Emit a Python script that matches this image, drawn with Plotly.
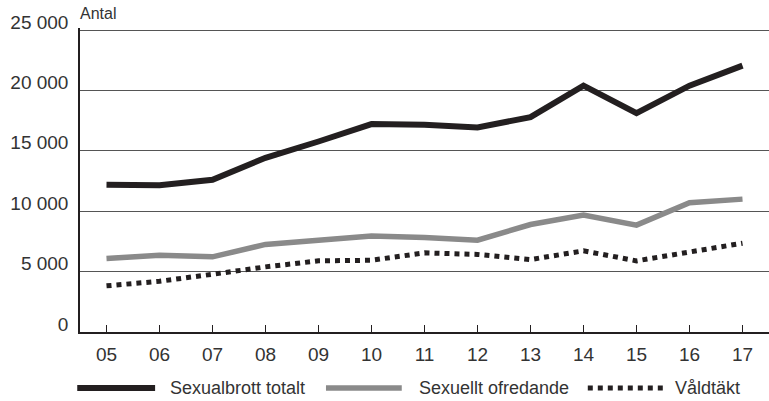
import plotly.graph_objects as go

# ===== Colours =====
INK = "#231f20"
GREY_LINE = "#8a8a8a"
GRID = "#555555"
TEXT = "#333333"
FONT = "Liberation Sans, Arial, Helvetica, sans-serif"

# ===== Data =====
years = ["05", "06", "07", "08", "09", "10", "11", "12", "13", "14", "15", "16", "17"]
sexualbrott_totalt = [12200, 12150, 12600, 14420, 15770, 17210, 17150, 16930, 17790, 20390, 18120, 20390, 22050]
sexuellt_ofredande = [6090, 6360, 6220, 7250, 7600, 7940, 7830, 7600, 8900, 9680, 8850, 10700, 11000]
valdtakt = [3820, 4200, 4780, 5390, 5890, 5940, 6550, 6420, 6000, 6720, 5890, 6630, 7350]

y_ticks = [0, 5000, 10000, 15000, 20000, 25000]
y_tick_labels = ["0", "5 000", "10 000", "15 000", "20 000", "25 000"]

series_names = ["Sexualbrott totalt", "Sexuellt ofredande", "Våldtäkt"]

fig = go.Figure()
fig.add_trace(go.Scatter(x=years, y=sexualbrott_totalt, mode="lines", name=series_names[0],
                         line=dict(color=INK, width=6)))
fig.add_trace(go.Scatter(x=years, y=sexuellt_ofredande, mode="lines", name=series_names[1],
                         line=dict(color=GREY_LINE, width=5.5)))
fig.add_trace(go.Scatter(x=years, y=valdtakt, mode="lines", name=series_names[2],
                         line=dict(color=INK, width=5, dash="5px,5px")))

# plot area is 2px taller than the 0..25 000 span so plotly keeps the top gridline
fig.update_layout(
    width=769, height=401,
    margin=dict(l=80, r=0, t=28, b=69, autoexpand=False),
    paper_bgcolor="white", plot_bgcolor="white",
    font=dict(family=FONT, color=TEXT, size=19),
    showlegend=False,
)
fig.update_xaxes(
    type="category", range=[-0.5, 12.5], automargin=False,
    showgrid=False, zeroline=False,
    showline=True, linecolor=INK, linewidth=1.5,
    ticks="inside", ticklen=7, tickwidth=1, tickcolor=INK,
    tickfont=dict(size=19, color=TEXT), ticklabelstandoff=4,
)
fig.update_yaxes(
    range=[0, 25166], tickvals=y_ticks, ticktext=y_tick_labels, automargin=False,
    showgrid=True, gridcolor=GRID, gridwidth=1, zeroline=False,
    showline=True, linecolor=INK, linewidth=1.5,
    ticks="", ticklabelshift=-8, ticklabelstandoff=6,
    tickfont=dict(size=19, color=TEXT),
)

# y-axis unit label
fig.add_annotation(text="Antal", xref="paper", yref="paper", x=-0.003, y=1.049,
                   xanchor="left", yanchor="middle", showarrow=False,
                   font=dict(size=16, color=TEXT))

# ---------- custom legend (long line samples) ----------
legend_y = -0.184
legend_items = [
    (series_names[0], INK, 6, None, -0.004, 0.109, 0.128),
    (series_names[1], GREY_LINE, 5.5, None, 0.357, 0.467, 0.489),
    (series_names[2], INK, 5, "5px,5px", 0.737, 0.852, 0.861),
]
for name, color, width, dash, x0, x1, xt in legend_items:
    line = dict(color=color, width=width)
    if dash:
        line["dash"] = dash
    fig.add_shape(type="line", xref="paper", yref="paper", x0=x0, x1=x1,
                  y0=legend_y, y1=legend_y, line=line)
    fig.add_annotation(text=name, xref="paper", yref="paper", x=xt, y=legend_y,
                       xanchor="left", yanchor="middle", showarrow=False,
                       font=dict(size=18, color=TEXT))

# drop the browser's default 8px body margin so the figure sits at (0, 0)
fig.write_html("out.html", config={"displayModeBar": False},
               post_script="document.body.style.margin='0';")
